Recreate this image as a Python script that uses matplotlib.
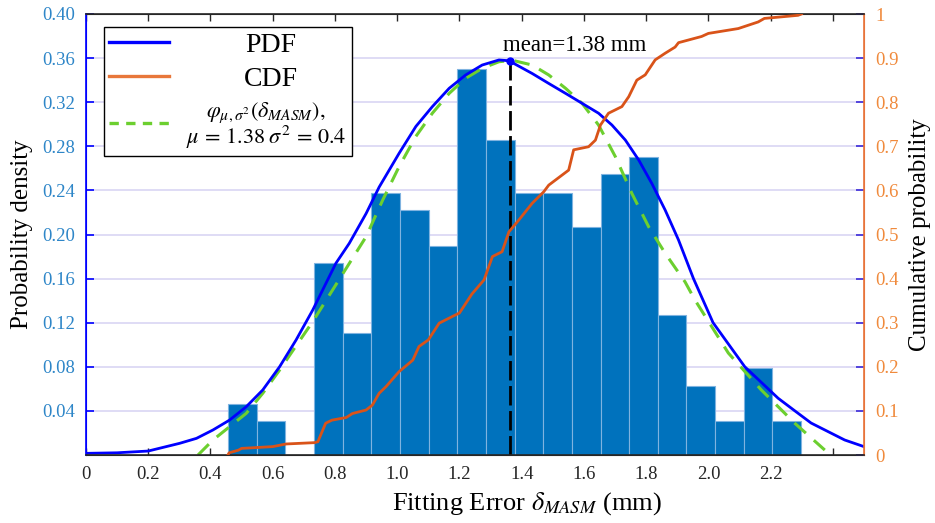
import numpy as np
import matplotlib
matplotlib.use('Agg')
import matplotlib.pyplot as plt
from matplotlib.lines import Line2D

plt.rcParams['font.family'] = ['Liberation Serif', 'DejaVu Serif']
plt.rcParams['mathtext.fontset'] = 'stix'

# histogram (probability density per bin)
bin_left = 0.456
bin_width = 0.0921
bin_density = [0.0465, 0.031, 0.0, 0.1745, 0.111, 0.238, 0.222, 0.190, 0.350, 0.286,
               0.238, 0.238, 0.2065, 0.255, 0.270, 0.1267, 0.0626, 0.0306, 0.079, 0.0306]

# kernel density estimate (PDF)
pdf_x = [0.0, 0.1, 0.2, 0.301, 0.355, 0.408, 0.4615, 0.515, 0.568, 0.622, 0.675, 0.7286,
         0.771, 0.803, 0.846, 0.900, 0.942, 1.006, 1.060, 1.113, 1.167, 1.220, 1.273, 1.327,
         1.359, 1.434, 1.487, 1.541, 1.594, 1.647, 1.690, 1.733, 1.776, 1.818, 1.861, 1.904,
         1.952, 2.015, 2.117, 2.224, 2.278, 2.33, 2.438, 2.5]
pdf_y = [0.0015, 0.002, 0.0036, 0.0106, 0.0151, 0.0227, 0.0317, 0.0438, 0.059, 0.080, 0.1043,
         0.1315, 0.1557, 0.1739, 0.192, 0.219, 0.243, 0.2736, 0.298, 0.316, 0.3326, 0.3447,
         0.3537, 0.3583, 0.3576, 0.346, 0.337, 0.328, 0.319, 0.310, 0.2993, 0.2857, 0.2676,
         0.2464, 0.2222, 0.195, 0.160, 0.120, 0.080, 0.0515, 0.040, 0.029, 0.0136, 0.0076]

# fitted normal curve
fit_x = [0.36, 0.408, 0.4615, 0.515, 0.568, 0.622, 0.675, 0.7286, 0.782, 0.9, 0.953, 1.006,
         1.06, 1.113, 1.167, 1.22, 1.273, 1.327, 1.37, 1.434, 1.487, 1.541, 1.594, 1.647,
         1.701, 1.754, 1.808, 1.861, 1.925, 1.957, 2.064, 2.17, 2.278, 2.374]
fit_y = [0.0, 0.0136, 0.0257, 0.0378, 0.056, 0.077, 0.099, 0.121, 0.145, 0.198, 0.231, 0.2615,
         0.289, 0.310, 0.328, 0.3417, 0.3507, 0.3567, 0.358, 0.3537, 0.3447, 0.3326, 0.319,
         0.2993, 0.2706, 0.2373, 0.207, 0.183, 0.157, 0.1405, 0.0925, 0.059, 0.0287, 0.0045]

# empirical CDF
cdf_x = [0.456, 0.46, 0.49, 0.50, 0.60, 0.643, 0.734, 0.745, 0.77, 0.79, 0.836, 0.856,
         0.90, 0.92, 0.942, 0.964, 1.006, 1.05, 1.07, 1.10, 1.135, 1.177, 1.20, 1.24,
         1.279, 1.306, 1.337, 1.359, 1.391, 1.434, 1.471, 1.487, 1.551, 1.567, 1.615, 1.637,
         1.653, 1.679, 1.722, 1.744, 1.77, 1.797, 1.829, 1.861, 1.893, 1.904, 1.978, 2.0,
         2.096, 2.16, 2.18, 2.288, 2.299]
cdf_y = [0.0, 0.005, 0.011, 0.015, 0.019, 0.025, 0.028, 0.030, 0.072, 0.079, 0.085, 0.094,
         0.102, 0.113, 0.140, 0.155, 0.189, 0.215, 0.246, 0.261, 0.299, 0.314, 0.322, 0.365,
         0.397, 0.450, 0.461, 0.506, 0.533, 0.571, 0.597, 0.612, 0.646, 0.692, 0.699, 0.714,
         0.748, 0.775, 0.790, 0.8125, 0.850, 0.862, 0.896, 0.911, 0.925, 0.935, 0.949, 0.956,
         0.967, 0.982, 0.990, 0.997, 1.0]

mean_x = 1.362
mean_peak = 0.3576

xticks = [0, 0.2, 0.4, 0.6, 0.8, 1.0, 1.2, 1.4, 1.6, 1.8, 2.0, 2.2, 2.4]
xticklabels = ['0', '0.2', '0.4', '0.6', '0.8', '1.0', '1.2', '1.4', '1.6', '1.8', '2.0', '2.2', '']
yticks_left = [0.04, 0.08, 0.12, 0.16, 0.20, 0.24, 0.28, 0.32, 0.36, 0.40]
yticks_right = [0, 0.1, 0.2, 0.3, 0.4, 0.5, 0.6, 0.7, 0.8, 0.9, 1]

fig = plt.figure(figsize=(9.35, 5.23), dpi=100)
ax = fig.add_axes([86/935, 68/523, 778/935, 441/523])
ax2 = ax.twinx()

# grid lines
for yv in yticks_left[:-1]:
    ax.axhline(yv, color='#dcd9f4', linewidth=1.3, zorder=0)

edges = bin_left + bin_width * np.arange(len(bin_density))
ax.bar(edges, bin_density, width=bin_width, align='edge', color='#0072BD',
       edgecolor='#7fb3e0', linewidth=0.8, zorder=2)
ax.plot(fit_x, fit_y, color='#6ccf2f', linewidth=2.2, dashes=(5, 3.5), zorder=3)
ax.plot(pdf_x, pdf_y, color='#0000ff', linewidth=2, zorder=4)
ax.plot([mean_x, mean_x], [0, mean_peak], color='black', linewidth=2, dashes=(7, 2), zorder=5)
ax.plot([mean_x], [mean_peak], 'o', color='#0000ff', markersize=5, zorder=6)
ax.text(mean_x - 0.022, 0.366, 'mean=1.38 mm', fontsize=16.5, ha='left', va='baseline')

ax2.plot(cdf_x, cdf_y, color='#d95319', linewidth=2, zorder=3)

ax.set_xlim(0, 2.5)
ax.set_ylim(0, 0.4)
ax2.set_ylim(0, 1)

ax.set_xticks(xticks)
ax.set_xticklabels(xticklabels)
ax.set_yticks(yticks_left)
ax.set_yticklabels(['%.2f' % v for v in yticks_left])
ax2.set_yticks(yticks_right)
ax2.set_yticklabels(['0', '0.1', '0.2', '0.3', '0.4', '0.5', '0.6', '0.7', '0.8', '0.9', '1'])

ax.tick_params(axis='x', direction='in', length=5, width=1, top=True, labelsize=13.5, pad=8,
               color='#262626', labelcolor='#262626')
ax.tick_params(axis='y', direction='in', length=6, width=1.2, labelsize=13.5, pad=8,
               color='#0000ff', labelcolor='#2e86c8')
ax2.tick_params(axis='y', direction='in', length=6, width=1.2, labelsize=13.5, pad=8,
                color='#3a2ad8', labelcolor='#f08a3c')

for s in ['top', 'bottom']:
    ax.spines[s].set_color('#262626')
    ax2.spines[s].set_color('#262626')
ax.spines['left'].set_color('#0000ff')
ax2.spines['left'].set_color('#0000ff')
ax2.spines['right'].set_color('#e8743b')
ax.spines['right'].set_color('#e8743b')
for s in ax2.spines.values():
    s.set_linewidth(1.2)

ax.set_ylabel('Probability density', fontsize=18)
ax.yaxis.set_label_coords(-0.068, 0.5)
ax2.set_ylabel('Cumulative probability', fontsize=18)
ax2.yaxis.set_label_coords(1.058, 0.5)
ax.set_xlabel(r'Fitting Error $\delta_{MASM}$ (mm)', fontsize=19)
ax.xaxis.set_label_coords(0.567, -0.08)

handles = [Line2D([], [], color='#0000ff', linewidth=2.4),
           Line2D([], [], color='#e8773a', linewidth=2.4),
           Line2D([], [], color='#6ccf2f', linewidth=2.4, dashes=(2.8, 2.2))]
labels = ['PDF', 'CDF', '$\\varphi_{\\mu,\\sigma^2}(\\delta_{MASM}),$\n$\\mu\\, =\\, 1.38\\;\\sigma^2\\, =\\, 0.4$']
leg = ax2.legend(handles, labels, loc='upper left', bbox_to_anchor=(0.023, 0.9705),
                 borderaxespad=0, fontsize=20, fancybox=False, framealpha=1,
                 edgecolor='black', handlelength=2.15, handletextpad=0.6,
                 borderpad=0.2, labelspacing=0.3)
leg.get_frame().set_linewidth(1)
texts = leg.get_texts()
texts[2].set_fontsize(16)
texts[2].set_multialignment('center')
texts[2].set_linespacing(0.95)

fig.canvas.draw()
r = fig.canvas.get_renderer()
widths = [t.get_window_extent(r).width for t in texts]
wmax = max(widths)
for i, (t, w) in enumerate(zip(texts, widths)):
    shift = (wmax - w) / 2
    if i < 2:
        shift += 5
    t.set_x(shift)

fig.savefig('out.png', dpi=100)
